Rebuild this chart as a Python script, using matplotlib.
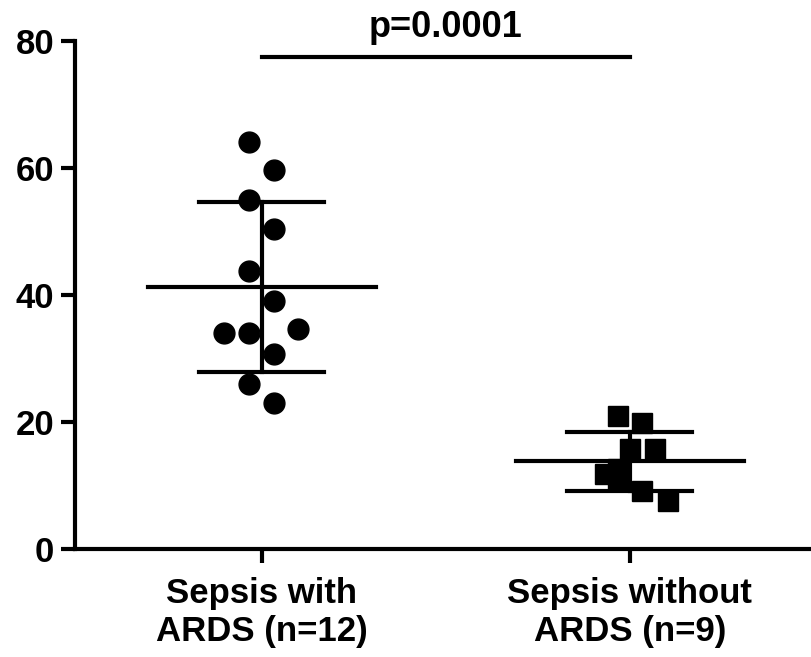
"""
Scatter plot with mean and SD, sepsis with vs without ARDS.
"""

import numpy as np
import matplotlib
matplotlib.use('Agg')
import matplotlib.pyplot as plt

plt.rcParams['font.family'] = ['Liberation Sans', 'DejaVu Sans']
plt.rcParams['font.weight'] = 'bold'

# Data

groups = ["Sepsis with\nARDS (n=12)", "Sepsis without\nARDS (n=9)"]
ards_vals = [64.1, 59.7, 55.0, 50.4, 43.8, 39.1, 34.0, 34.0, 34.6, 30.7, 26.0, 23.0]
no_ards_vals = [21.0, 19.9, 15.8, 15.8, 12.6, 11.8, 10.9, 9.1, 7.5]
p_text = "p=0.0001"

# horizontal scatter of points inside each column
ards_jit = [-0.035, 0.033, -0.035, 0.033, -0.035, 0.033, -0.103, -0.035, 0.098, 0.033, -0.035, 0.033]
no_ards_jit = [-0.033, 0.033, 0.0, 0.068, -0.033, -0.068, -0.033, 0.033, 0.103]

fig = plt.figure(figsize=(8.12, 6.57), dpi=100)
ax = fig.add_axes([0.0924, 0.1644, 0.9076, 0.7732])

lw = 3
mean_hw = 0.31
sd_hw = 0.17

for i, (vals, jit, mk, ms) in enumerate([(ards_vals, ards_jit, 'o', 15),
                                         (no_ards_vals, no_ards_jit, 's', 14.5)]):
    vals = np.array(vals)
    ax.plot(i + np.array(jit), vals, mk, color='black', markersize=ms,
            linestyle='none', zorder=3, clip_on=False)
    m = vals.mean()
    sd = vals.std(ddof=1)
    ax.plot([i - mean_hw, i + mean_hw], [m, m], color='black', lw=lw, zorder=2)
    ax.plot([i - sd_hw, i + sd_hw], [m + sd, m + sd], color='black', lw=lw, zorder=2)
    ax.plot([i - sd_hw, i + sd_hw], [m - sd, m - sd], color='black', lw=lw, zorder=2)
    ax.plot([i, i], [m - sd, m + sd], color='black', lw=lw, zorder=2)

# significance bar
ax.plot([0, 1], [77.5, 77.5], color='black', lw=lw, clip_on=False)
ax.text(0.5, 80.6, p_text, ha='center', va='baseline', fontsize=26,
        fontweight='bold', clip_on=False)

ax.set_xlim(-0.508, 1.495)
ax.set_ylim(0, 80)
ax.set_yticks([0, 20, 40, 60, 80])
ax.set_xticks([0, 1])
ax.set_xticklabels(groups, fontsize=25, fontweight='bold', linespacing=1.2)
ax.tick_params(axis='y', labelsize=25, length=10, width=lw, pad=5)
ax.tick_params(axis='x', length=10, width=lw, pad=10)
for lab in ax.get_yticklabels():
    lab.set_fontweight('bold')

ax.spines['top'].set_visible(False)
ax.spines['right'].set_visible(False)
ax.spines['left'].set_linewidth(lw)
ax.spines['bottom'].set_linewidth(lw)

fig.savefig("out.png", dpi=100)
